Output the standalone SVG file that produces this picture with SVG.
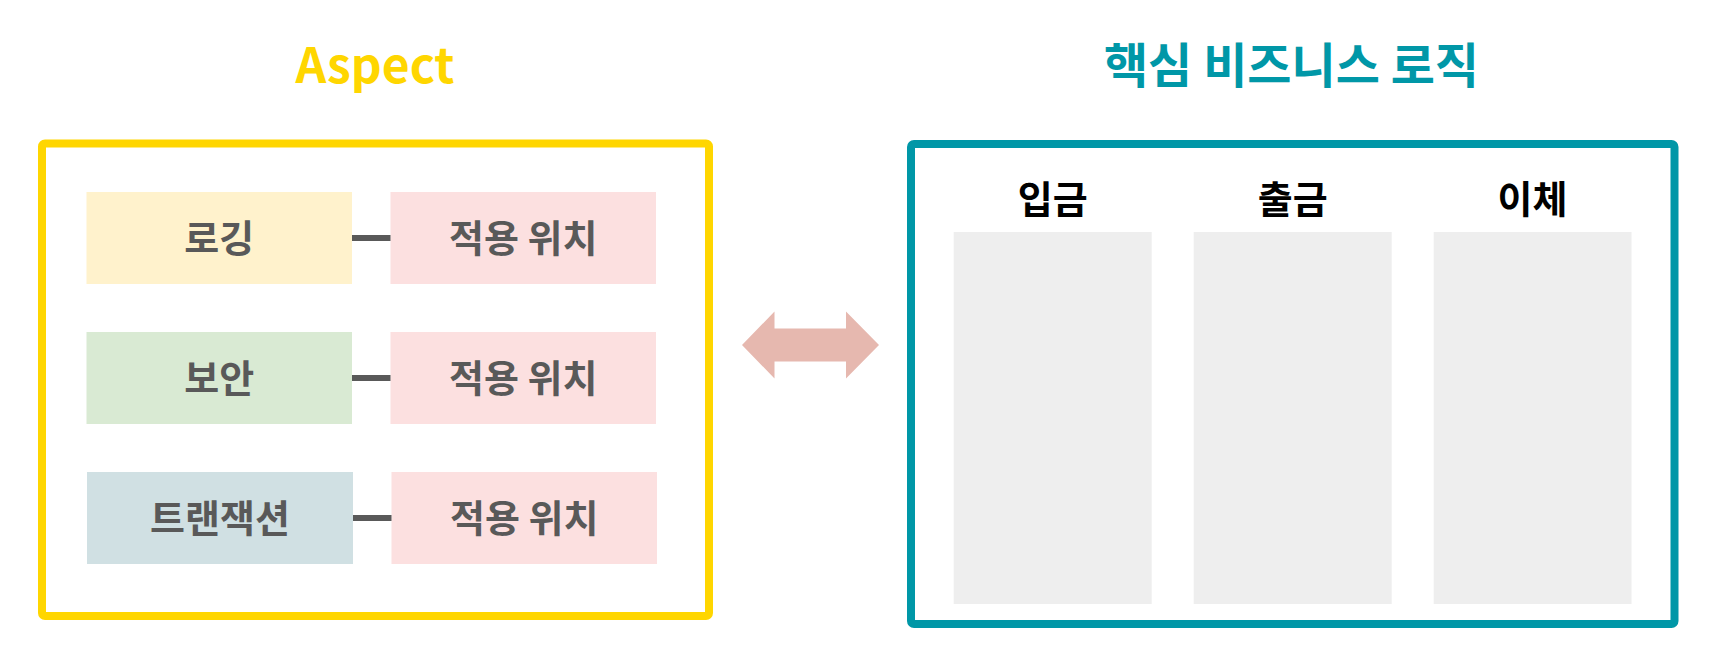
<svg xmlns="http://www.w3.org/2000/svg" width="1719" height="652" viewBox="0 0 1719 652">
<style>
  text { font-family: "Noto Sans CJK KR", "Noto Sans", sans-serif; font-weight: bold; text-anchor: middle; }
  .title { font-size: 48px; }
  .lbl { font-size: 38px; fill: #595959; }
  .hdr { font-size: 38px; fill: #000000; }
  .loc { fill: #FCE0E0; }
  .col { fill: #EEEEEE; }
  .conn { stroke: #595959; stroke-width: 6; }
</style>
<rect width="1719" height="652" fill="#FFFFFF"/>

<g id="aspect-frame">
  <text class="title" x="375" y="83" fill="#FFD600">Aspect</text>
  <rect x="42" y="143.5" width="667" height="472.5" rx="3" fill="none" stroke="#FFD600" stroke-width="8"/>
</g>

<g id="logging">
  <rect x="86.5" y="192" width="265.5" height="92" fill="#FFF2CC"/>
  <text class="lbl" x="219.25" y="252.3">로깅</text>
</g>
<g id="logging-loc">
  <rect class="loc" x="390.5" y="192" width="265.5" height="92"/>
  <text class="lbl" x="523.25" y="252.3">적용 위치</text>
</g>

<g id="security">
  <rect x="86.5" y="332" width="265.5" height="92" fill="#D9EAD3"/>
  <text class="lbl" x="219.25" y="392.3">보안</text>
</g>
<g id="security-loc">
  <rect class="loc" x="390.5" y="332" width="265.5" height="92"/>
  <text class="lbl" x="523.25" y="392.3">적용 위치</text>
</g>

<g id="transaction">
  <rect x="87" y="472" width="266" height="92" fill="#D0E0E3"/>
  <text class="lbl" x="220" y="532.3">트랜잭션</text>
</g>
<g id="transaction-loc">
  <rect class="loc" x="391.5" y="472" width="265.5" height="92"/>
  <text class="lbl" x="524.25" y="532.3">적용 위치</text>
</g>

<g id="business-frame">
  <text class="title" x="1291.5" y="83" fill="#0097A7">핵심 비즈니스 로직</text>
  <rect x="911" y="144" width="763.5" height="480" rx="3" fill="none" stroke="#0097A7" stroke-width="8"/>
</g>

<g id="deposit">
  <text class="hdr" x="1052.7" y="212.5">입금</text>
  <rect class="col" x="953.7" y="232" width="198" height="372"/>
</g>
<g id="withdraw">
  <text class="hdr" x="1292.7" y="212.5">출금</text>
  <rect class="col" x="1193.7" y="232" width="198" height="372"/>
</g>
<g id="transfer">
  <text class="hdr" x="1532.5" y="212.5">이체</text>
  <rect class="col" x="1433.7" y="232" width="197.8" height="372"/>
</g>

<g id="connectors">
  <line class="conn" x1="352" y1="238" x2="390.5" y2="238"/>
  <line class="conn" x1="352" y1="378" x2="390.5" y2="378"/>
  <line class="conn" x1="353" y1="518" x2="391.5" y2="518"/>
  <polygon points="742,345 774.5,311.5 774.5,328.5 846,328.5 846,311.5 879,345 846,378.5 846,361.5 774.5,361.5 774.5,378.5" fill="#E6B8AF"/>
</g>
</svg>
